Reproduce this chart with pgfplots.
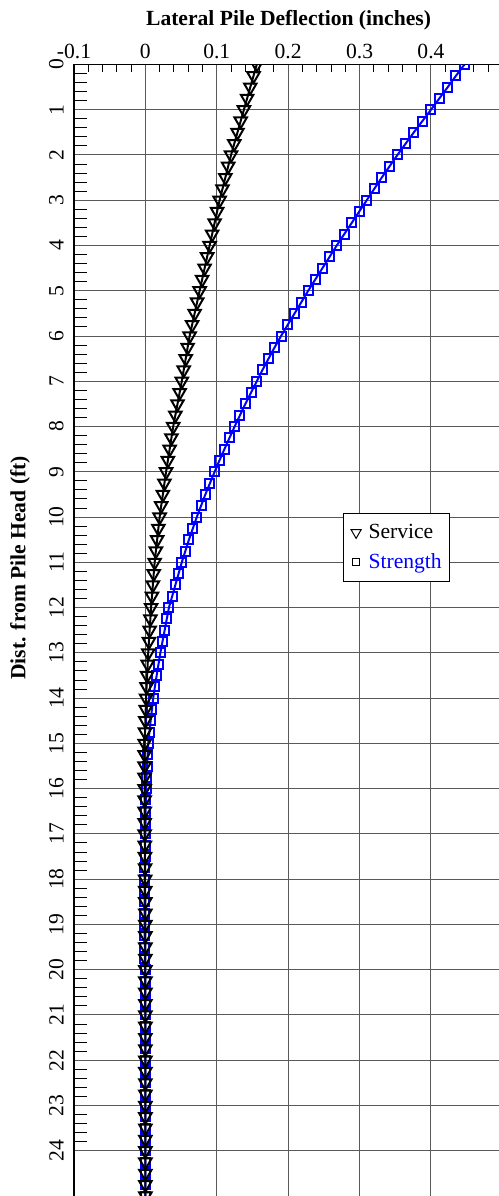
\documentclass[border=0pt]{standalone}
\usepackage{pgfplots}
\pgfplotsset{compat=1.18}
\usepackage{pgfplotstable}
\usepackage{fontspec}
\setmainfont{Liberation Serif}

% depth (ft), deflection service / strength (in)
\pgfplotstableread{
d     sv       st
0     0.156    0.447
0.25  0.1515   0.435
0.5   0.147    0.4235
0.75  0.1425   0.4117
1     0.138    0.400
1.25  0.1335   0.388
1.5   0.129    0.376
1.75  0.1245   0.3645
2     0.120    0.353
2.25  0.116    0.342
2.5   0.112    0.331
2.75  0.108    0.3205
3     0.104    0.310
3.25  0.1005   0.2995
3.5   0.097    0.289
3.75  0.0935   0.2785
4     0.090    0.268
4.25  0.0865   0.258
4.5   0.083    0.248
4.75  0.0795   0.238
5     0.076    0.228
5.25  0.0725   0.2185
5.5   0.069    0.209
5.75  0.0655   0.1995
6     0.062    0.190
6.25  0.0592   0.181
6.5   0.0565   0.1725
6.75  0.0537   0.164
7     0.051    0.156
7.25  0.048    0.148
7.5   0.045    0.140
7.75  0.042    0.1325
8     0.039    0.125
8.25  0.0365   0.1178
8.5   0.034    0.1107
8.75  0.0315   0.1037
9     0.029    0.097
9.25  0.0267   0.0905
9.5   0.0245   0.084
9.75  0.0222   0.078
10    0.020    0.072
10.25 0.0182   0.0665
10.5  0.0165   0.061
10.75 0.0147   0.056
11    0.013    0.051
11.25 0.0117   0.0465
11.5  0.0105   0.042
11.75 0.0092   0.0375
12    0.008    0.033
12.25 0.007    0.030
12.5  0.006    0.027
12.75 0.005    0.024
13    0.004    0.021
13.25 0.0032   0.0184
13.5  0.0025   0.0158
13.75 0.0017   0.0133
14    0.001    0.011
14.25 0.0005   0.0092
14.5  0.0      0.0074
14.75 -0.0005  0.0057
15    -0.001   0.004
15.25 -0.001   0.0032
15.5  -0.001   0.0024
15.75 -0.001   0.0017
16    -0.001   0.001
16.25 -0.001   0.0007
16.5  -0.001   0.0004
16.75 -0.001   0.0002
17    -0.001   0.0
17.25 -0.0008  -0.0003
17.5  -0.0006  -0.0005
17.75 -0.0004  -0.0008
18    -0.0003  -0.001
18.25 -0.0002  -0.001
18.5  -0.0001  -0.001
18.75 0.0      -0.001
19    0.0      -0.001
19.25 0.0      -0.001
19.5  0.0      -0.0008
19.75 0.0      -0.0006
20    0.0      -0.0005
20.25 0.0      -0.0004
20.5  0.0      -0.0003
20.75 0.0      -0.0002
21    0.0      -0.0001
21.25 0.0      0.0
21.5  0.0      0.0
21.75 0.0      0.0
22    0.0      0.0
22.25 0.0      0.0
22.5  0.0      0.0
22.75 0.0      0.0
23    0.0      0.0
23.25 0.0      0.0
23.5  0.0      0.0
23.75 0.0      0.0
24    0.0      0.0
24.25 0.0      0.0
24.5  0.0      0.0
24.75 0.0      0.0
25    0.0      0.0
}\data

\begin{document}
\begin{tikzpicture}
  \begin{axis}[
      at={(0,0)}, anchor=south west,
      scale only axis,
      width=212.5pt,
      height=566pt,
      xmin=-0.1, xmax=0.495,
      ymin=0, ymax=25,
      y dir=reverse,
      axis x line=top,
      axis y line=left,
      axis line style={-, line width=0.6pt},
      tick align=inside,
      /pgf/number format/assume math mode=true,
      tick label style={font=\fontsize{10.8}{12}\selectfont},
      xtick={-0.1,0,0.1,0.2,0.3,0.4},
      xticklabels={-0.1,0,0.1,0.2,0.3,0.4},
      xticklabel style={inner ysep=2.5pt},
      ytick={0,1,...,24},
      yticklabel style={rotate=90, anchor=south, inner ysep=5pt},
      major tick length=0pt,
      minor y tick num=4,
      minor tick length=6.3pt,
      extra x ticks={-0.08,-0.06,-0.04,-0.02,0.02,0.04,0.06,0.08,0.12,0.14,0.16,0.18,0.22,0.24,0.26,0.28,0.32,0.34,0.36,0.38,0.42,0.44,0.46,0.48},
      extra x tick labels={},
      extra x tick style={grid=none, major tick length=4pt},
      every tick/.style={black, line width=0.5pt},
      grid=major,
      major grid style={black!65, line width=0.5pt},
      xlabel={Lateral Pile Deflection (inches)},
      xlabel style={font=\fontsize{10.8}{12}\selectfont\bfseries, at={(axis description cs:0.505,1.039)}, anchor=center},
      ylabel={Dist. from Pile Head (ft)},
      ylabel style={font=\fontsize{10.8}{12}\selectfont\bfseries, at={(axis description cs:-0.127,0.555)}, anchor=center},
      clip marker paths=true,
      legend style={at={(axis cs:0.277,9.92)}, anchor=north west, draw=black, line width=0.5pt,
        font=\fontsize{10.8}{12}\selectfont, inner xsep=2pt, inner ysep=3pt, row sep=2pt},
      legend cell align=left,
      legend image code/.code={\path (0cm,0cm) (0.28cm,0cm); \draw[#1] plot coordinates {(0.14cm,0cm)};},
    ]
    \addplot[blue, line width=1pt, mark=square, mark size=2.25pt, mark options={line width=1pt}, forget plot]
      table[x=st, y=d] {\data};
    \addplot[black, line width=1pt, mark=triangle, mark size=3.6pt, mark options={rotate=180, line width=1pt}, forget plot]
      table[x=sv, y=d] {\data};
    \addlegendimage{only marks, black, mark=triangle, mark size=2.9pt, mark options={rotate=180, line width=0.5pt}}
    \addlegendentry{Service}
    \addlegendimage{only marks, black, mark=square, mark size=1.75pt, mark options={line width=0.5pt}}
    \addlegendentry{\textcolor{blue}{Strength}}
  \end{axis}
  \pgfresetboundingbox
  \path[use as bounding box] (-37pt,0pt) rectangle (212.5pt,598.25pt);
\end{tikzpicture}
\end{document}
